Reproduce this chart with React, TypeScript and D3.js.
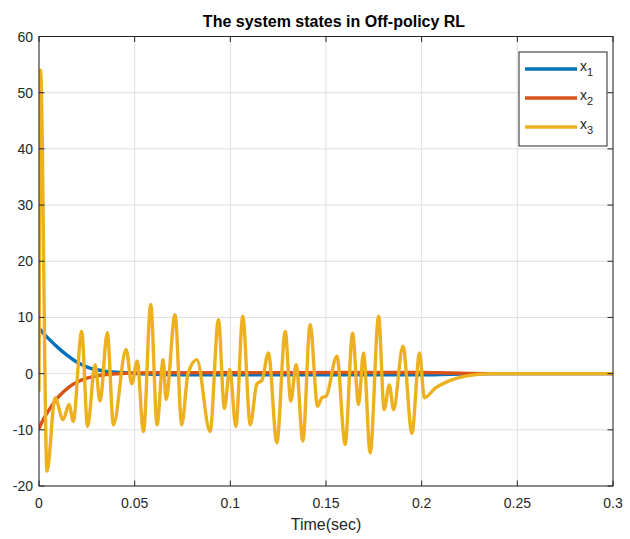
import React from 'react';
import * as d3 from 'd3';

const timeTicks = [0, 0.05, 0.1, 0.15, 0.2, 0.25, 0.3];
const timeTickLabels = ['0', '0.05', '0.1', '0.15', '0.2', '0.25', '0.3'];
const valueTicks = [-20, -10, 0, 10, 20, 30, 40, 50, 60];
const seriesNames = ['1', '2', '3'];
const seriesColors = ['#0072BD', '#D95319', '#EDB120'];

const x1Time = [0, 0.003, 0.006, 0.009, 0.012, 0.015, 0.019, 0.023, 0.027, 0.031, 0.035, 0.045, 0.06, 0.08, 0.2, 0.215, 0.235, 0.3];
const x1Value = [8.1, 6.9, 5.9, 4.9, 4.0, 3.2, 2.2, 1.5, 0.95, 0.65, 0.4, 0.15, -0.1, -0.2, -0.2, -0.1, 0, 0];

const x2Time = [0, 0.002, 0.005, 0.009, 0.012, 0.016, 0.02, 0.025, 0.03, 0.035, 0.045, 0.06, 0.2, 0.215, 0.235, 0.3];
const x2Value = [-9.8, -8.3, -6.6, -4.6, -3.5, -2.3, -1.5, -0.8, -0.4, -0.15, 0.05, 0.15, 0.2, 0.1, 0, 0];

const x3Time = [
  0, 0.0008, 0.0042, 0.0084, 0.0126, 0.0157, 0.0179, 0.0223, 0.0254, 0.0293,
  0.0319, 0.0357, 0.0389, 0.0455, 0.0485, 0.0513, 0.0546, 0.0584, 0.0617, 0.0649,
  0.0664, 0.0711, 0.0746, 0.0779, 0.0825, 0.0894, 0.0938, 0.0969, 0.0997, 0.1029,
  0.1065, 0.1104, 0.1139, 0.1165, 0.1199, 0.1243, 0.1287, 0.1316, 0.1344, 0.1379,
  0.1417, 0.1456, 0.1478, 0.1501, 0.1557, 0.16, 0.1639, 0.167, 0.1696, 0.1731,
  0.1775, 0.1804, 0.1831, 0.1853, 0.1902, 0.1949, 0.1989, 0.2014, 0.2071, 0.215,
  0.2254, 0.236, 0.3,
];
const x3Value = [
  -3, 54, -17.4, -4.3, -8.2, -5.5, -8.5, 7.5, -9.4, 1.6,
  -4.9, 7.3, -9.1, 4.3, -1.8, 2.2, -10.3, 12.3, -9.1, 2.5,
  -4.6, 10.5, -9.1, 0, 2.5, -10.3, 9.6, -6.2, 0.8, -9.4,
  10.2, -9.1, -1.8, -1.2, 3.7, -12.3, 7.5, -4.9, 1.6, -12.0,
  8.7, -5.8, -4.3, -4.0, 3.1, -12.6, 7.2, -5.5, 3.7, -14.1,
  10.2, -6.4, -2.0, -6.4, 4.9, -10.6, 3.7, -4.3, -2.6, -1.2,
  -0.3, 0, 0,
];

const W = 630;
const H = 539;
const left = 39;
const right = 613;
const top = 36.5;
const bottom = 486;
const font = '"Liberation Sans", Arial, Helvetica, sans-serif';
const textColor = '#262626';

export default function App() {
  const x = d3.scaleLinear().domain([0, 0.3]).range([left, right]);
  const y = d3.scaleLinear().domain([-20, 60]).range([bottom, top]);

  const series = [
    x1Time.map((t, i) => [t, x1Value[i]] as [number, number]),
    x2Time.map((t, i) => [t, x2Value[i]] as [number, number]),
    x3Time.map((t, i) => [t, x3Value[i]] as [number, number]),
  ];
  const line = d3
    .line<[number, number]>()
    .x((d) => x(d[0]))
    .y((d) => y(d[1]))
    .curve(d3.curveMonotoneX);

  const tickLen = 5.5;
  const legendX = 519;
  const legendY = 52;
  const legendW = 88;
  const legendH = 94;

  return (
    <svg
      width={W}
      height={H}
      style={{ position: 'absolute', left: 0, top: 0, background: '#fff' }}
      fontFamily={font}
    >
      <rect x={0} y={0} width={W} height={H} fill="#fff" />
      <defs>
        <clipPath id="plotClip">
          <rect x={left} y={top} width={right - left} height={bottom - top} />
        </clipPath>
      </defs>
      {timeTicks.map((t) => (
        <line key={'gx' + t} x1={x(t)} x2={x(t)} y1={top} y2={bottom} stroke="#dfdfdf" strokeWidth={1} />
      ))}
      {valueTicks.map((v) => (
        <line key={'gy' + v} x1={left} x2={right} y1={y(v)} y2={y(v)} stroke="#dfdfdf" strokeWidth={1} />
      ))}
      <g clipPath="url(#plotClip)">
        {series.map((s, i) => (
          <path
            key={'s' + i}
            d={line(s) || ''}
            fill="none"
            stroke={seriesColors[i]}
            strokeWidth={3.4}
            strokeLinejoin="round"
            strokeLinecap="round"
          />
        ))}
      </g>
      <rect x={left} y={top} width={right - left} height={bottom - top} fill="none" stroke={textColor} strokeWidth={1} />
      {timeTicks.map((t) => (
        <g key={'tx' + t}>
          <line x1={x(t)} x2={x(t)} y1={bottom} y2={bottom - tickLen} stroke={textColor} />
          <line x1={x(t)} x2={x(t)} y1={top} y2={top + tickLen} stroke={textColor} />
        </g>
      ))}
      {valueTicks.map((v) => (
        <g key={'ty' + v}>
          <line x1={left} x2={left + tickLen} y1={y(v)} y2={y(v)} stroke={textColor} />
          <line x1={right} x2={right - tickLen} y1={y(v)} y2={y(v)} stroke={textColor} />
        </g>
      ))}
      {timeTickLabels.map((lab, i) => (
        <text key={'lx' + lab} x={x(timeTicks[i])} y={bottom + 22} textAnchor="middle" fontSize={14} fill={textColor}>
          {lab}
        </text>
      ))}
      {valueTicks.map((v) => (
        <text key={'ly' + v} x={left - 6} y={y(v) + 5} textAnchor="end" fontSize={14} fill={textColor}>
          {v}
        </text>
      ))}
      <text x={(left + right) / 2} y={H - 9} textAnchor="middle" fontSize={16} fill={textColor}>
        Time(sec)
      </text>
      <text x={(left + right) / 2 + 8} y={27} textAnchor="middle" fontSize={16} fontWeight="bold" fill="#000">
        The system states in Off-policy RL
      </text>
      <rect x={legendX} y={legendY} width={legendW} height={legendH} fill="#fff" stroke={textColor} strokeWidth={1} />
      {seriesNames.map((n, i) => {
        const ly = legendY + 17 + i * 29;
        return (
          <g key={'leg' + n}>
            <line x1={legendX + 6} x2={legendX + 58} y1={ly} y2={ly} stroke={seriesColors[i]} strokeWidth={3.4} />
            <text x={legendX + 61} y={ly + 2} fontSize={14} fill={textColor}>
              x
              <tspan fontSize={11} dy={5}>
                {n}
              </tspan>
            </text>
          </g>
        );
      })}
    </svg>
  );
}
